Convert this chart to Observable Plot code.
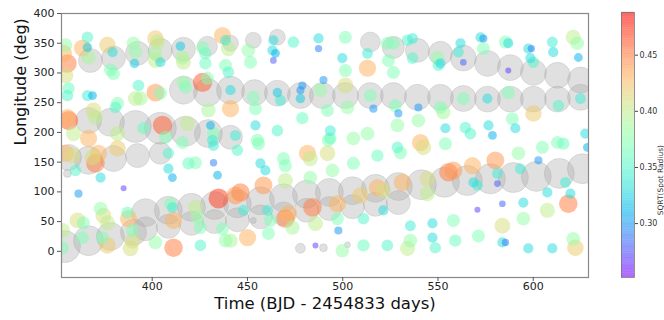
<!DOCTYPE html>
<html>
<head>
<meta charset="utf-8">
<script src="https://cdn.jsdelivr.net/npm/d3@7"></script>
<script src="https://cdn.jsdelivr.net/npm/@observablehq/plot@0.6"></script>
<style>
  html, body { margin: 0; padding: 0; background: white; }
  #wrap { display: flex; flex-direction: row; width: 664px; height: 320px; }
  #wrap svg { display: block; }
</style>
</head>
<body>
<div id="wrap"></div>
<script>
// ---- Gray tracks (active longitudes): time, longitude, size (sqrt radius units)
const trackDay = [
  367.6,379.7,392.3,404.3,416.4,429.0,441.1,453.1,465.7,514.5,526.6,539.2,551.3,563.3,576.0,588.0,600.1,612.7,624.8,
  416.4,429.0,441.1,453.7,465.7,477.8,489.3,501.4,514.5,526.6,539.2,551.3,563.3,576.0,588.0,600.1,612.7,624.8,
  366.6,378.1,391.2,404.3,417.5,429.5,441.1,
  356.1,366.6,379.7,392.3,404.3,
  355.5,453.1,477.8,489.9,502.5,
  354.0,366.6,378.1,390.2,
  396.5,408.5,420.6,432.7,444.7,456.8,468.9,481.0,493.0,505.1,517.2,529.2,541.3,553.4,565.4,577.5,589.6,601.6,613.7,625.8,
  396.5,408.5,420.6,432.7,444.7,456.8,468.9,481.0,493.0,505.1,517.2,529.2
];
const trackLon = [
  321,325,333,338,340,345,350,355,360,352,343,338,333,325,316,309,301,296,288,
  271,267,271,267,266,262,262,262,262,262,259,259,257,256,256,256,256,259,
  220,217,210,207,202,198,192,
  158,153,156,161,165,
  131,52,5,6,11,
  8,18,25,32,
  65,69,74,77,80,85,90,96,99,102,106,109,112,116,119,122,124,126,131,139,
  38,42,47,50,53,58,63,69,72,75,79,82
];
const trackSize = [
  .527,.527,.527,.527,.527,.47,.413,.413,.413,.47,.50,.527,.527,.555,.555,.555,.555,.555,.555,
  .584,.584,.584,.555,.555,.555,.555,.555,.555,.555,.555,.555,.555,.555,.555,.555,.555,.555,
  .555,.584,.641,.641,.613,.584,.527,
  .555,.584,.555,.527,.50,
  .298,.27,.327,.298,.27,
  .641,.613,.584,.555,
  .584,.584,.584,.584,.584,.584,.584,.584,.584,.584,.584,.584,.613,.613,.613,.613,.613,.613,.613,.613,
  .527,.527,.527,.527,.527,.527,.527,.527,.527,.527,.527,.527
];

// ---- Individual spots: time, longitude, sqrt(spot radius)
const spotDay = [
  355.5,353.4,354.5,354.5,366.0,366.0,363.4,366.6,376.5,379.2,378.1,379.7,390.2,391.2,390.7,401.7,402.8,401.7,404.3,401.7,
  414.8,415.9,416.4,426.4,427.9,427.9,436.9,438.5,440.0,438.5,440.0,426.4,429.0,416.4,417.5,401.7,404.3,392.8,391.2,393.9,
  368.7,366.0,356.1,355.5,381.8,380.7,441.1,441.1,429.5,356.1,355.5,369.2,370.2,381.8,405.4,407.0,395.4,418.5,430.6,432.2,
  431.6,358.7,366.6,415.9,450.5,451.6,463.6,463.1,464.7,463.6,474.1,487.3,487.3,501.4,499.8,501.4,513.0,513.0,523.4,526.6,
  524.0,526.6,534.0,453.1,454.2,465.7,467.3,477.8,478.8,477.8,488.3,489.9,492.0,501.4,502.5,514.5,516.1,527.6,529.2,478.8,
  454.2,465.7,493.5,493.5,513.0,505.6,528.7,455.2,443.7,536.6,536.6,549.7,550.2,551.3,561.8,560.7,563.3,572.3,573.8,573.8,
  585.4,586.9,586.9,597.4,599.0,598.5,600.1,610.0,610.5,621.0,623.1,623.7,539.7,551.3,552.8,563.3,575.9,586.9,600.1,613.2,
  624.8,539.7,553.9,564.4,567.0,576.5,578.6,589.0,590.6,612.7,627.3,540.8,358.2,354.5,359.7,370.2,371.8,368.7,372.9,381.8,
  408.5,408.5,410.6,419.0,422.7,432.2,434.3,432.2,385.0,361.3,434.8,443.7,372.9,374.4,360.8,363.9,387.0,387.6,410.6,411.2,
  422.7,423.8,376.5,352.9,363.4,373.9,376.5,389.7,389.7,388.6,352.9,401.7,411.2,425.3,425.3,436.9,438.5,444.7,455.8,456.8,
  459.4,468.9,469.9,481.5,483.0,492.0,492.5,494.6,505.6,483.0,469.9,518.2,530.3,528.7,446.3,458.4,447.9,460.5,471.5,469.9,
  484.1,497.2,509.3,518.2,521.3,531.3,462.1,473.6,485.7,497.2,510.9,521.3,450.0,461.0,497.7,485.7,499.8,510.9,523.4,534.0,
  441.1,542.3,553.9,555.5,558.1,544.4,544.4,568.1,580.1,568.6,570.7,581.2,581.2,592.2,593.2,602.7,604.8,615.8,616.9,619.5,
  628.4,607.4,594.8,583.8,570.7,618.4,607.4,594.8,558.1,535.5,547.1,583.8,571.2,547.1,548.6,535.5,559.1,583.8,585.4,597.4,
  610.0,622.1,621.0,409.6
];
const spotLon = [
  316,333,296,347,360,343,342,326,347,335,305,299,350,335,316,358,352,333,318,321,
  345,326,318,343,333,316,363,355,341,313,301,284,291,284,276,267,266,279,257,257,
  262,262,274,262,249,242,240,271,237,220,225,237,225,198,212,192,207,215,212,198,
  187,198,190,183,338,318,355,338,333,321,352,358,341,360,325,304,333,308,350,350,
  321,301,355,259,240,267,254,271,279,257,271,288,237,279,242,262,240,245,232,224,
  212,203,203,190,198,190,212,187,195,358,325,326,313,316,350,335,318,360,358,341,
  352,350,304,341,341,325,318,352,335,360,350,326,242,242,234,257,257,267,232,245,
  257,220,207,208,198,212,195,223,207,183,198,183,161,165,136,148,165,158,124,173,
  165,139,124,148,149,149,128,178,106,97,89,94,72,60,52,48,65,55,74,52,
  74,57,48,35,23,23,10,35,18,5,6,15,6,10,40,38,18,170,181,148,
  136,156,144,165,156,165,187,136,148,124,119,161,166,175,99,111,69,69,63,55,
  74,80,94,107,102,116,52,40,47,55,55,69,23,30,35,10,1,10,10,5,
  18,175,181,133,136,122,97,144,153,116,111,131,114,165,139,153,175,181,116,97,
  175,99,82,80,70,80,69,55,52,43,47,43,26,23,6,18,18,15,15,5,
  5,6,21,80
];
const spotVal = [
  .45,.43,.41,.38,.35,.32,.43,.39,.42,.33,.37,.37,.38,.38,.32,.42,.40,.39,.33,.40,
  .32,.39,.40,.37,.36,.36,.43,.34,.40,.37,.35,.46,.37,.38,.37,.44,.37,.35,.40,.39,
  .31,.34,.36,.35,.37,.35,.43,.33,.39,.46,.43,.41,.40,.40,.46,.37,.36,.40,.31,.37,
  .34,.40,.43,.37,.38,.37,.33,.33,.31,.28,.35,.33,.29,.37,.33,.37,.34,.43,.37,.37,
  .37,.37,.35,.37,.37,.32,.34,.30,.30,.32,.38,.30,.37,.41,.38,.37,.30,.37,.30,.36,
  .33,.35,.34,.36,.38,.38,.38,.37,.34,.34,.35,.38,.35,.33,.33,.34,.28,.33,.30,.37,
  .37,.33,.27,.33,.29,.33,.35,.34,.33,.40,.38,.31,.30,.37,.39,.37,.33,.37,.42,.35,
  .34,.38,.33,.35,.35,.33,.31,.37,.33,.37,.33,.43,.41,.43,.35,.45,.43,.41,.33,.42,
  .35,.33,.31,.36,.37,.29,.31,.34,.27,.30,.47,.44,.38,.41,.41,.37,.36,.43,.34,.43,
  .40,.38,.40,.40,.37,.37,.42,.37,.41,.41,.37,.38,.45,.35,.37,.37,.38,.35,.37,.33,
  .33,.37,.37,.43,.40,.41,.37,.38,.37,.38,.40,.36,.37,.35,.45,.44,.34,.34,.43,.45,
  .45,.43,.42,.43,.41,.43,.37,.39,.40,.37,.35,.33,.43,.37,.30,.27,.38,.36,.35,.40,
  .39,.41,.37,.45,.44,.41,.40,.43,.44,.33,.34,.34,.28,.38,.34,.30,.37,.36,.34,.33,
  .31,.33,.33,.28,.27,.45,.40,.38,.37,.34,.33,.41,.37,.33,.35,.38,.36,.33,.29,.33,
  .33,.42,.38,.37
];

// ---- Axes ticks and labels
const xTicks = [400, 450, 500, 550, 600];
const yTicks = [0, 50, 100, 150, 200, 250, 300, 350, 400];
const barTicks = [0.30, 0.35, 0.40, 0.45];
const xTitle = "Time (BJD - 2454833 days)";
const yTitle = "Longitude (deg)";
const barTitle = "SQRT(Spot Radius)";

// matplotlib "rainbow" colormap
function mplRainbow(t) {
  const r = Math.min(1, Math.abs(2 * t - 0.5));
  const g = Math.sin(Math.PI * t);
  const b = Math.cos(Math.PI * t / 2);
  return `rgb(${Math.round(r * 255)},${Math.round(g * 255)},${Math.round(b * 255)})`;
}
const colorDomain = [0.252, 0.488];
const colorScale = {type: "linear", domain: colorDomain, interpolate: mplRainbow};
const font = "DejaVu Sans, sans-serif";

const T = trackDay.map((_, i) => i);
const S = spotDay.map((_, i) => i);

const main = Plot.plot({
  width: 600, height: 320,
  marginLeft: 61, marginRight: 12, marginTop: 13, marginBottom: 43,
  style: {fontFamily: font, background: "white", color: "#222"},
  x: {domain: [352.4, 629]},
  y: {domain: [-44, 400]},
  r: {type: "linear", domain: [0.27, 0.47], range: [3, 10]},
  color: colorScale,
  marks: [
    Plot.dot(T, {x: i => trackDay[i], y: i => trackLon[i], r: i => trackSize[i],
      fill: "#aaa", fillOpacity: 0.36, stroke: "#999", strokeOpacity: 0.3, strokeWidth: 0.8, clip: true}),
    Plot.dot(S, {x: i => spotDay[i], y: i => spotLon[i], r: i => spotVal[i],
      fill: i => spotVal[i], fillOpacity: 0.52, stroke: "none", clip: true}),
    Plot.frame({stroke: "#888", strokeWidth: 1.2}),
    Plot.axisX({ticks: xTicks, tickSize: 4, tickPadding: 1, fontSize: 11, label: null, stroke: "#555", fill: "#222"}),
    Plot.axisY({ticks: yTicks, tickSize: 4, tickPadding: 3, fontSize: 11, label: null, stroke: "#555", fill: "#222"}),
    Plot.text([xTitle], {frameAnchor: "bottom", dy: 20, lineAnchor: "top", fontSize: 16.5, fill: "#111", text: d => d}),
    Plot.text([yTitle], {frameAnchor: "left", dx: -41, rotate: -90, fontSize: 16, fill: "#111", text: d => d})
  ]
});

const nStops = 120;
const stops = d3.range(nStops).map(i => colorDomain[0] + (colorDomain[1] - colorDomain[0]) * i / nStops);
const step = (colorDomain[1] - colorDomain[0]) / nStops;

const bar = Plot.plot({
  width: 64, height: 320,
  marginLeft: 21, marginRight: 30, marginTop: 12, marginBottom: 43,
  style: {fontFamily: font, background: "white", color: "#333"},
  x: {domain: [0, 1], axis: null},
  y: {domain: colorDomain},
  color: colorScale,
  marks: [
    Plot.rect(stops, {x1: 0, x2: 1, y1: d => d, y2: d => d + step * 1.05, fill: d => d + step / 2, fillOpacity: 0.6}),
    Plot.frame({stroke: "#777", strokeWidth: 0.8}),
    Plot.axisY({anchor: "right", ticks: barTicks, tickFormat: ".2f", tickSize: 3, tickPadding: 2, fontSize: 8, label: null, stroke: "#444", fill: "#333"}),
    Plot.text([barTitle], {frameAnchor: "right", dx: 26, rotate: -90, fontSize: 7.5, fill: "#333", text: d => d})
  ]
});

const wrap = document.getElementById("wrap");
wrap.appendChild(main);
wrap.appendChild(bar);
</script>
</body>
</html>
